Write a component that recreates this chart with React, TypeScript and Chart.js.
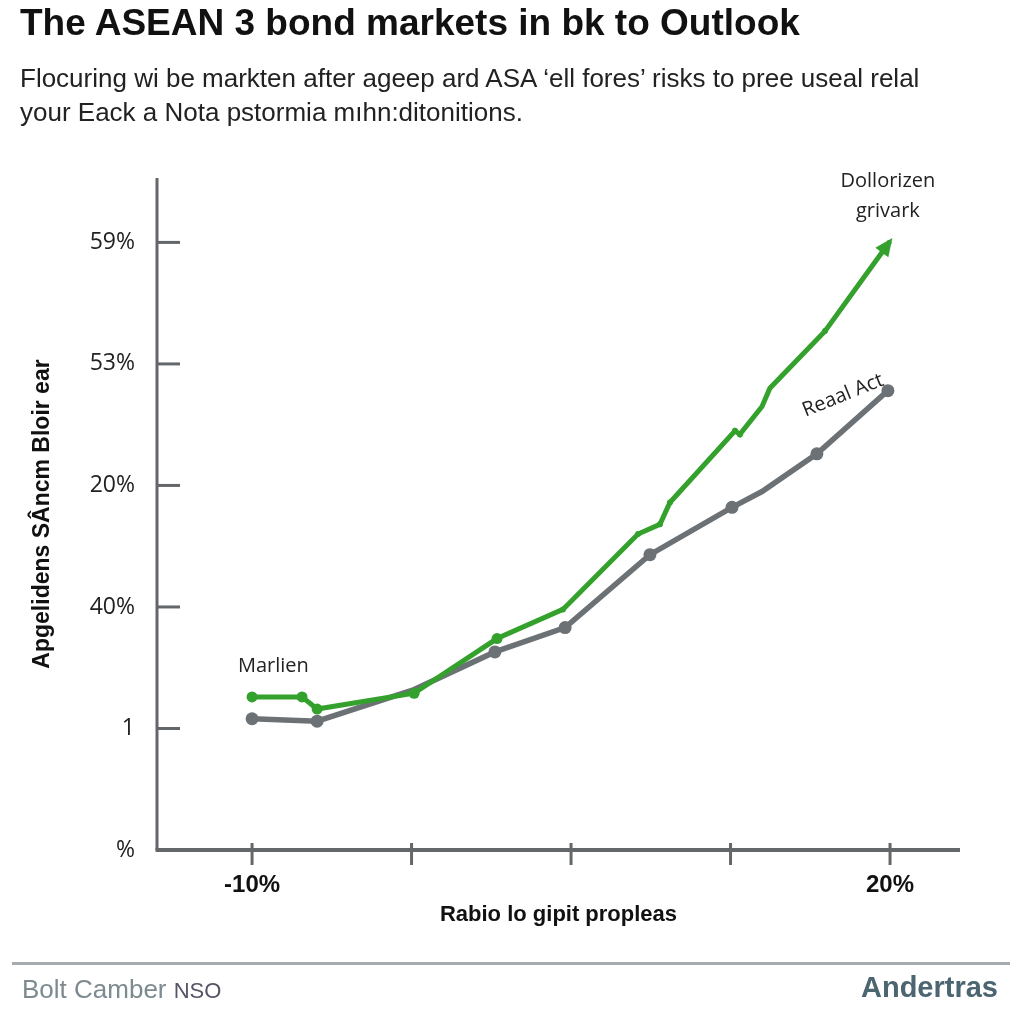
import React, { useEffect, useRef } from "react";
import { Chart, registerables } from "chart.js";

Chart.register(...registerables);

const TITLE = "The ASEAN 3 bond markets in bk to Outlook";
const SUBTITLE_LINES = [
  "Flocuring wi be markten after ageep ard ASA \u2018ell fores\u2019 risks to pree useal relal",
  "your Eack a Nota pstormia mıhn:ditonitions.",
];
const X_AXIS_TITLE = "Rabio lo gipit propleas";
const Y_AXIS_TITLE = "Apgelidens S\u00c2ncm Bloir ear";
const FOOTER_LEFT = "Bolt Camber";
const FOOTER_LEFT_SMALL = "NSO";
const FOOTER_RIGHT = "Andertras";

const X_TICKS = [-10, -2.5, 5, 12.5, 20];
const X_TICK_LABELS = ["-10%", "", "", "", "20%"];
const Y_TICKS = [0, 1, 2, 3, 4, 5];
const Y_TICK_LABELS = ["%", "1", "40%", "20%", "53%", "59%"];

const GREEN_X = [-10, -7.65, -6.94, -2.38, 1.52, 4.62, 8.15, 9.18, 9.65, 12.71, 12.94, 13.98, 14.35, 16.94, 20.0];
const GREEN_Y = [1.26, 1.26, 1.16, 1.29, 1.74, 1.98, 2.6, 2.68, 2.86, 3.45, 3.42, 3.65, 3.8, 4.27, 5.01];
const GREEN_R = [5.5, 5.5, 5.5, 5.5, 5.5, 3, 3, 3, 3, 3, 3, 0, 0, 3, 0];

const GRAY_X = [-10, -6.94, -2.38, 1.42, 4.72, 8.71, 12.57, 13.98, 16.56, 19.9];
const GRAY_Y = [1.08, 1.06, 1.32, 1.63, 1.83, 2.43, 2.82, 2.95, 3.26, 3.78];
const GRAY_R = [6.5, 6.5, 0, 6.5, 6.5, 6.5, 6.5, 0, 6.5, 6.5];

const ANNOTATIONS = [
  { text: "Marlien", x: -9.0, y: 1.51, rot: 0 },
  { text: "Dollorizen", x: 19.9, y: 5.5, rot: 0 },
  { text: "grivark", x: 19.9, y: 5.26, rot: 0 },
  { text: "Reaal Act", x: 17.79, y: 3.74, rot: -22 },
];

const GREEN = "#34a12d";
const GRAY = "#6c7175";
const AXIS = "#646769";
const NARROW = '"Liberation Sans Narrow", "Arial Narrow", "Liberation Sans", sans-serif';
const SANS = '"Open Sans", "Liberation Sans", sans-serif';

const axesPlugin = {
  id: "axesAndTicks",
  afterDraw(chart: any) {
    const { ctx, chartArea, scales } = chart;
    ctx.save();
    ctx.strokeStyle = AXIS;
    ctx.lineCap = "butt";
    ctx.lineWidth = 3;
    ctx.beginPath();
    ctx.moveTo(chartArea.left, chartArea.top);
    ctx.lineTo(chartArea.left, chartArea.bottom);
    ctx.stroke();
    ctx.lineWidth = 4;
    ctx.beginPath();
    ctx.moveTo(chartArea.left - 1.5, chartArea.bottom);
    ctx.lineTo(chartArea.right, chartArea.bottom);
    ctx.stroke();
    ctx.lineWidth = 3;
    scales.y.ticks.forEach((t: any) => {
      if (t.value === 0) return;
      const py = scales.y.getPixelForValue(t.value);
      ctx.beginPath();
      ctx.moveTo(chartArea.left, py);
      ctx.lineTo(chartArea.left + 23, py);
      ctx.stroke();
    });
    scales.x.ticks.forEach((t: any) => {
      const px = scales.x.getPixelForValue(t.value);
      ctx.beginPath();
      ctx.moveTo(px, chartArea.bottom - 7);
      ctx.lineTo(px, chartArea.bottom + 15);
      ctx.stroke();
    });
    ctx.restore();
  },
};

const arrowPlugin = {
  id: "arrowHead",
  afterDatasetsDraw(chart: any) {
    const meta = chart.getDatasetMeta(0);
    const pts = meta.data;
    if (pts.length < 2) return;
    const a = pts[pts.length - 2];
    const b = pts[pts.length - 1];
    const ang = Math.atan2(b.y - a.y, b.x - a.x);
    const ctx = chart.ctx;
    const len = 18;
    const half = 8;
    ctx.save();
    ctx.translate(b.x, b.y);
    ctx.rotate(ang);
    ctx.fillStyle = GREEN;
    ctx.beginPath();
    ctx.moveTo(4, 0);
    ctx.lineTo(4 - len, -half);
    ctx.lineTo(4 - len, half);
    ctx.closePath();
    ctx.fill();
    ctx.restore();
  },
};

const labelsPlugin = {
  id: "textLabels",
  afterDatasetsDraw(chart: any) {
    const { ctx, scales } = chart;
    ctx.save();
    ctx.fillStyle = "#222";
    ctx.font = `20px ${SANS}`;
    ctx.textAlign = "center";
    ctx.textBaseline = "middle";
    ANNOTATIONS.forEach((a) => {
      const px = scales.x.getPixelForValue(a.x);
      const py = scales.y.getPixelForValue(a.y);
      ctx.save();
      ctx.translate(px, py);
      ctx.rotate((a.rot * Math.PI) / 180);
      ctx.fillText(a.text, 0, 0);
      ctx.restore();
    });
    ctx.restore();
  },
};

export default function App() {
  const canvasRef = useRef<HTMLCanvasElement | null>(null);

  useEffect(() => {
    document.body.style.margin = "0";
    const canvas = canvasRef.current;
    if (!canvas) return;
    const chart = new Chart(canvas, {
      type: "line",
      data: {
        datasets: [
          {
            label: "green",
            data: GREEN_X.map((x, i) => ({ x, y: GREEN_Y[i] })),
            borderColor: GREEN,
            backgroundColor: GREEN,
            borderWidth: 5,
            pointRadius: GREEN_R,
            pointBorderWidth: 0,
            tension: 0,
          },
          {
            label: "gray",
            data: GRAY_X.map((x, i) => ({ x, y: GRAY_Y[i] })),
            borderColor: GRAY,
            backgroundColor: GRAY,
            borderWidth: 5.5,
            pointRadius: GRAY_R,
            pointBorderWidth: 0,
            tension: 0,
          },
        ],
      },
      options: {
        animation: false,
        responsive: false,
        maintainAspectRatio: false,
        devicePixelRatio: 1,
        layout: { padding: { top: 178, right: 64, bottom: 96, left: 0 } },
        plugins: {
          legend: { display: false },
          tooltip: { enabled: false },
        },
        scales: {
          x: {
            type: "linear",
            min: -14.47,
            max: 23.29,
            grid: { display: false, drawTicks: false },
            border: { display: false },
            afterBuildTicks: (s: any) => {
              s.ticks = X_TICKS.map((v) => ({ value: v }));
            },
            afterFit: (s: any) => {
              s.height = 78;
            },
            ticks: {
              autoSkip: false,
              maxRotation: 0,
              padding: 21,
              color: "#111",
              font: { family: NARROW, size: 24, weight: "bold" },
              callback: (_v: any, i: number) => X_TICK_LABELS[i],
            },
            title: {
              display: true,
              text: X_AXIS_TITLE,
              color: "#111",
              font: { family: NARROW, size: 22, weight: "bold" },
              padding: { top: 10, bottom: 0 },
            },
          },
          y: {
            type: "linear",
            min: 0,
            max: 5.53,
            grid: { display: false, drawTicks: false },
            border: { display: false },
            afterBuildTicks: (s: any) => {
              s.ticks = Y_TICKS.map((v) => ({ value: v }));
            },
            afterFit: (s: any) => {
              s.width = 157;
            },
            ticks: {
              autoSkip: false,
              padding: 22,
              color: "#222",
              font: { family: SANS, size: 23 },
              callback: (_v: any, i: number) => Y_TICK_LABELS[i],
            },
            title: {
              display: true,
              text: Y_AXIS_TITLE,
              color: "#111",
              font: { family: NARROW, size: 23, weight: "bold" },
              padding: { top: 29, bottom: 0 },
            },
          },
        },
      },
      plugins: [axesPlugin, arrowPlugin, labelsPlugin],
    } as any);
    return () => chart.destroy();
  }, []);

  return (
    <div style={{ position: "absolute", left: 0, top: 0, width: 1024, height: 1024, background: "#fff", overflow: "hidden" }}>
      <canvas ref={canvasRef} width={1024} height={1024} style={{ position: "absolute", left: 0, top: 0, width: 1024, height: 1024 }} />
      <div style={{ position: "absolute", left: 20, top: 2, fontFamily: NARROW, fontWeight: "bold", fontSize: 37, color: "#111", whiteSpace: "nowrap", letterSpacing: 0 }}>
        {TITLE}
      </div>
      <div style={{ position: "absolute", left: 20, top: 61, fontFamily: NARROW, fontSize: 26, lineHeight: "34px", color: "#222", whiteSpace: "nowrap" }}>
        {SUBTITLE_LINES.map((l, i) => (
          <div key={i}>{l}</div>
        ))}
      </div>
      <div style={{ position: "absolute", left: 12, top: 962, width: 998, height: 3, background: "#a7abad" }} />
      <div style={{ position: "absolute", left: 22, top: 974, fontFamily: NARROW, fontSize: 26, color: "#7d8a8f", whiteSpace: "nowrap" }}>
        {FOOTER_LEFT} <span style={{ fontSize: 22, color: "#556" }}>{FOOTER_LEFT_SMALL}</span>
      </div>
      <div style={{ position: "absolute", right: 26, top: 971, fontFamily: NARROW, fontWeight: "bold", fontSize: 29, color: "#4b6670", whiteSpace: "nowrap" }}>
        {FOOTER_RIGHT}
      </div>
    </div>
  );
}
